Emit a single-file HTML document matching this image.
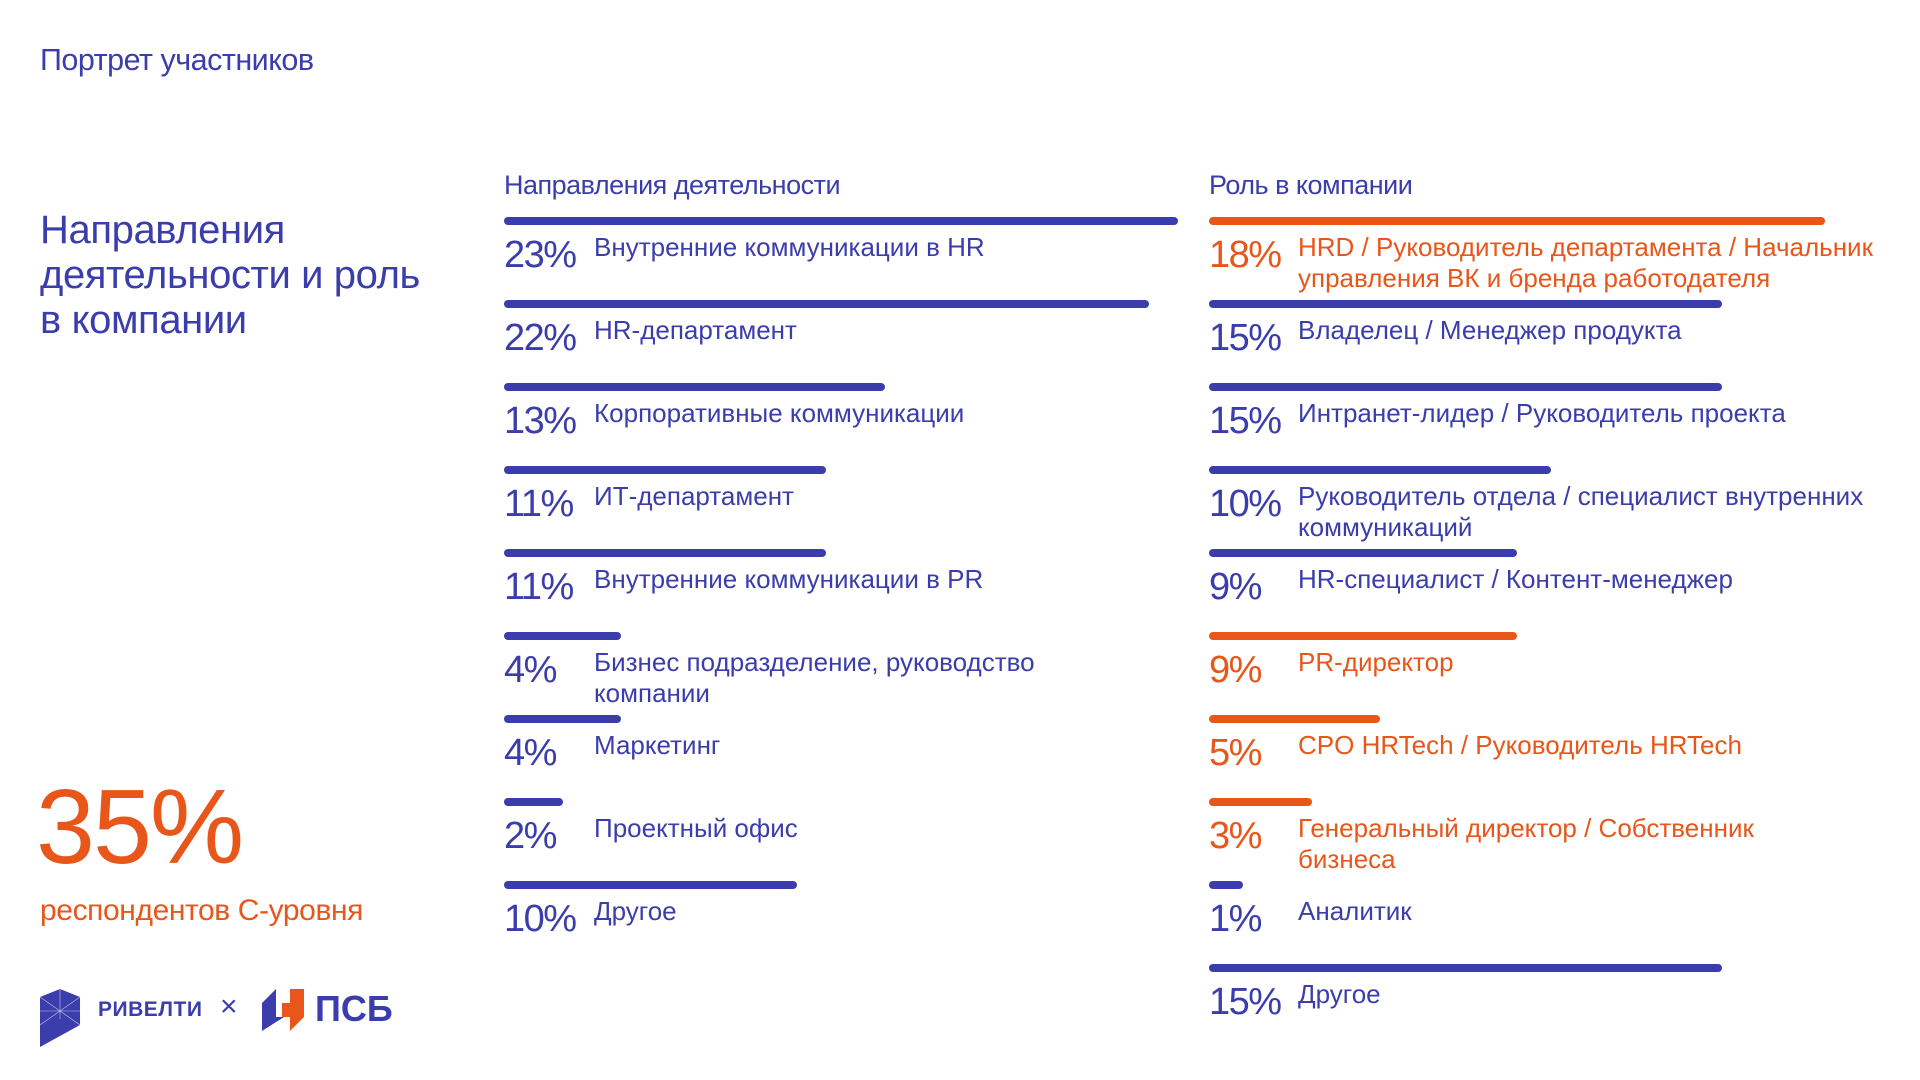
<!DOCTYPE html>
<html><head><meta charset="utf-8">
<style>
body{margin:0;width:1920px;height:1080px;background:#fff;position:relative;overflow:hidden;font-family:"Liberation Sans","Noto Sans CJK SC",sans-serif;color:#3a3dab}
.abs{position:absolute;white-space:nowrap}
.bar{position:absolute;height:8px;border-radius:4px}
.pct{position:absolute;font-size:38px;letter-spacing:-1.5px;line-height:40px}
.lbl{position:absolute;font-size:26px;letter-spacing:0px;line-height:31px;white-space:nowrap}
</style></head><body>
<div class="abs" style="left:40px;top:43px;font-size:30.5px;letter-spacing:-0.5px">Портрет участников</div>
<div class="abs" style="left:40px;top:208px;font-size:40px;line-height:45px;letter-spacing:-0.4px">Направления<br>деятельности и роль<br>в компании</div>
<div class="abs" style="left:36px;top:772px;font-size:106px;line-height:110px;color:#e8561a;letter-spacing:-2px">35%</div>
<div class="abs" style="left:40px;top:894px;font-size:30px;color:#e8561a;letter-spacing:-0.4px">респондентов С-уровня</div>
<div class="abs" style="left:504px;top:170px;font-size:27px;letter-spacing:-0.5px">Направления деятельности</div>
<div class="abs" style="left:1209px;top:170px;font-size:27px;letter-spacing:-0.5px">Роль в компании</div>
<svg class="abs" style="left:40px;top:989px" width="40" height="58" viewBox="0 0 40 58"><polygon points="0,8 20,0 40,8 40,36 0,58" fill="#3a3dab"/><path d="M0,8 L40,36 M40,8 L0,36 M20,0 L20,30 M0,22 L40,22" stroke="#fff" stroke-width="0.6" opacity="0.7"/></svg>
<div class="abs" style="left:98px;top:998px;font-size:21px;font-weight:bold;letter-spacing:0.5px">РИВЕЛТИ</div>
<div class="abs" style="left:220px;top:990px;font-size:30px;font-weight:normal">×</div>
<svg class="abs" style="left:262px;top:989px" width="42" height="42" viewBox="0 0 42 42"><polygon points="0,14 14,0 14,28 22,28 0,42" fill="#3a3dab"/><polygon points="28,0 42,0 42,28 28,42 28,28 20,28 20,14 28,14" fill="#e8561a"/></svg>
<div class="abs" style="left:315px;top:988px;font-size:36px;font-weight:bold;letter-spacing:0px">ПСБ</div>
<div id="charts"></div>
<script>
const leftLabels=["Внутренние коммуникации в HR","HR-департамент","Корпоративные коммуникации","ИТ-департамент","Внутренние коммуникации в PR","Бизнес подразделение, руководство<br>компании","Маркетинг","Проектный офис","Другое"];
const leftValues=[23,22,13,11,11,4,4,2,10];
const rightLabels=["HRD / Руководитель департамента / Начальник<br>управления ВК и бренда работодателя","Владелец / Менеджер продукта","Интранет-лидер / Руководитель проекта","Руководитель отдела / специалист внутренних<br>коммуникаций","HR-специалист / Контент-менеджер","PR-директор","CPO HRTech / Руководитель HRTech","Генеральный директор / Собственник<br>бизнеса","Аналитик","Другое"];
const rightValues=[18,15,15,10,9,9,5,3,1,15];
const rightHighlight=[1,0,0,0,0,1,1,1,0,0];
const BLUE="#3a3dab",ORANGE="#e8561a";
const root=document.getElementById('charts');
function xL(v){return v*29.3;}
function xR(v){return v*34.2;}
function yRow(i){return 217+i*83;}
function draw(labels,values,hl,x0,labelX,scale,prefix){
  values.forEach((v,i)=>{
    const c=hl&&hl[i]?ORANGE:BLUE;
    const b=document.createElement('div');
    b.className='bar';
    
    
    b.style.left=x0+'px';b.style.top=yRow(i)+'px';b.style.width=Math.max(8,scale(v))+'px';b.style.background=c;
    root.appendChild(b);
    const p=document.createElement('div');
    p.className='pct';
    
    
    p.style.left=x0+'px';p.style.top=(yRow(i)+18)+'px';p.style.color=c;p.textContent=v+'%';
    root.appendChild(p);
    const l=document.createElement('div');
    l.className='lbl';
    
    
    l.style.left=labelX+'px';l.style.top=(yRow(i)+15)+'px';l.style.color=c;l.innerHTML=labels[i];
    root.appendChild(l);
  });
}
draw(leftLabels,leftValues,null,504,594,xL,'activity');
draw(rightLabels,rightValues,rightHighlight,1209,1298,xR,'role');
</script>
</body></html>
